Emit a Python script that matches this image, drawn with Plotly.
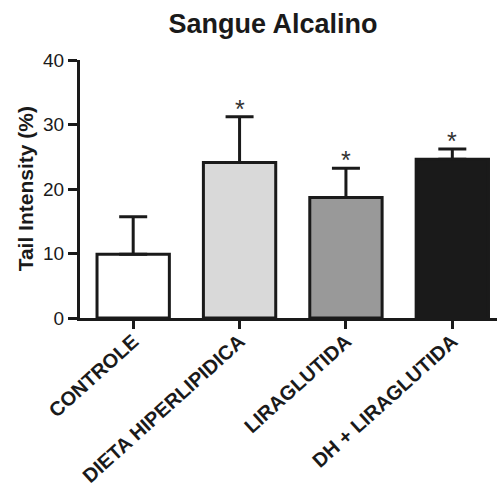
import plotly.graph_objects as go

categories = ["CONTROLE", "DIETA HIPERLIPIDICA", "LIRAGLUTIDA", "DH + LIRAGLUTIDA"]
means = [9.9, 24.1, 18.7, 24.6]
sem = [5.8, 7.1, 4.5, 1.6]
significant = ["", "*", "*", "*"]
fills = ["#ffffff", "#d9d9d9", "#999999", "#1a1a1a"]
y_ticks = [0, 10, 20, 30, 40]

FONT = "Arial, Liberation Sans, sans-serif"
LINE = "#1a1a1a"

fig = go.Figure()
fig.add_trace(go.Bar(
    x=categories, y=means, width=0.68,
    marker=dict(color=fills, line=dict(color=LINE, width=3)),
    error_y=dict(type="data", array=sem, symmetric=False, arrayminus=[0]*4,
                 color=LINE, thickness=3, width=14),
))

for c, m, e, s in zip(categories, means, sem, significant):
    if s:
        fig.add_annotation(x=c, y=m + e, text=s, showarrow=False,
                           yanchor="bottom", yshift=-8,
                           font=dict(family=FONT, size=25, color="#333333"))

fig.add_annotation(xref="paper", yref="paper", x=-0.131, y=0.5,
                   xanchor="center", yanchor="middle", textangle=-90,
                   text="<b>Tail Intensity (%)</b>", showarrow=False,
                   font=dict(family=FONT, size=21, color="#1a1a1a"))

fig.update_layout(
    width=498, height=493,
    margin=dict(l=80, r=1, t=60, b=175, autoexpand=False),
    paper_bgcolor="white", plot_bgcolor="white",
    showlegend=False,
    title=dict(text="<b>Sangue Alcalino</b>", x=0.548, xanchor="center",
               y=0.952, yanchor="middle",
               font=dict(family=FONT, size=27, color="#1a1a1a")),
    font=dict(family=FONT, color="#1a1a1a"),
)
fig.update_xaxes(
    range=[-0.5, 3.42], showline=True, linecolor=LINE, linewidth=3,
    ticks="outside", ticklen=8, tickwidth=3, tickcolor=LINE,
    tickangle=-42, tickfont=dict(family=FONT, size=20, color="#1a1a1a"),
    tickprefix="<b>", ticksuffix="</b>", showgrid=False, zeroline=False,
    automargin=False, ticklabelstandoff=-7,
)
fig.update_yaxes(
    range=[0, 40], tickvals=y_ticks, showline=True, linecolor=LINE, linewidth=3,
    ticks="outside", ticklen=9, tickwidth=3, tickcolor=LINE,
    tickfont=dict(family=FONT, size=19, color="#1a1a1a"),
    tickprefix="<b>", ticksuffix="</b>",
    showgrid=False, zeroline=False, automargin=False,
)

fig.write_html("out.html", config={"displayModeBar": False},
               post_script="document.body.style.margin='0';document.body.style.overflow='hidden';")
